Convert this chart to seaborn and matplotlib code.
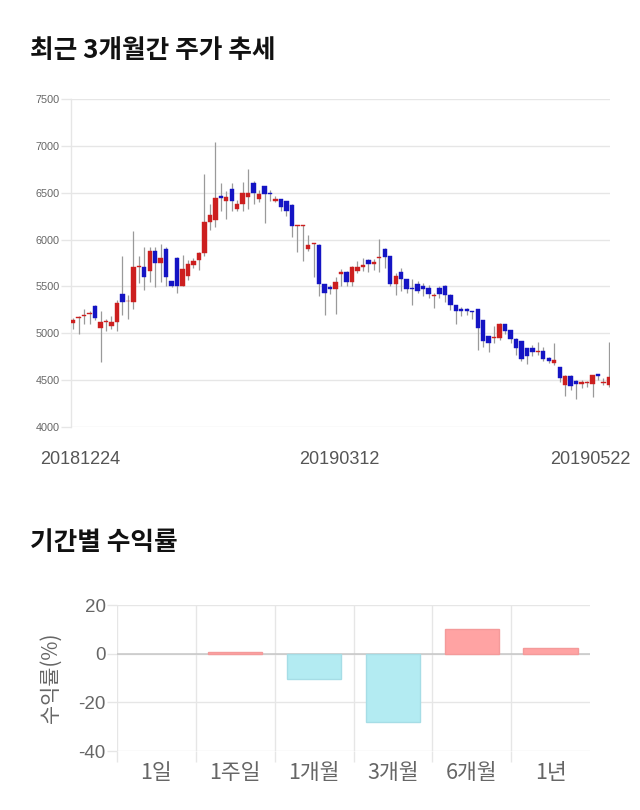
import matplotlib
matplotlib.use("Agg")
import matplotlib.pyplot as plt
import matplotlib.transforms as mtransforms
from matplotlib.ticker import FixedLocator
import seaborn as sns
import pandas as pd
import numpy as np

# ---------------- data: daily candles (20181224 .. 20190522) ----------------
opens = [5111, 5165, 5185, 5205, 5296, 5061, 5120, 5082, 5125, 5418,
         5340, 5332, 5708, 5706, 5667, 5874, 5753, 5896, 5557, 5803,
         5500, 5610, 5731, 5781, 5852, 6184, 6205, 6465, 6412, 6537,
         6323, 6383, 6455, 6608, 6437, 6569, 6485, 6416, 6430, 6408,
         6373, 6150, 6150, 5895, 5952, 5945, 5524, 5496, 5475, 5634,
         5652, 5546, 5663, 5712, 5787, 5741, 5805, 5900, 5823, 5521,
         5652, 5574, 5478, 5521, 5503, 5482, 5400, 5482, 5500, 5404,
         5297, 5261, 5261, 5228, 5254, 5139, 4968, 4947, 4954, 5097,
         5036, 4940, 4918, 4843, 4840, 4797, 4815, 4736, 4682, 4636,
         4447, 4547, 4493, 4457, 4472, 4454, 4565, 4468, 4447]
closes = [5143, 5170, 5190, 5214, 5161, 5125, 5130, 5125, 5325, 5332,
          5345, 5710, 5712, 5603, 5874, 5753, 5803, 5603, 5500, 5500,
          5685, 5735, 5767, 5860, 6187, 6259, 6448, 6444, 6455, 6408,
          6383, 6496, 6496, 6494, 6487, 6483, 6483, 6437, 6348, 6305,
          6141, 6152, 6152, 5945, 5955, 5524, 5425, 5475, 5546, 5652,
          5546, 5712, 5712, 5730, 5741, 5766, 5812, 5812, 5521, 5610,
          5574, 5475, 5475, 5450, 5475, 5421, 5408, 5421, 5404, 5297,
          5236, 5236, 5243, 5225, 5054, 4914, 4893, 4957, 5097, 5029,
          4940, 4840, 4722, 4761, 4804, 4811, 4725, 4707, 4711, 4518,
          4547, 4440, 4454, 4475, 4475, 4550, 4547, 4482, 4529]
highs = [5160, 5189, 5260, 5240, 5300, 5240, 5150, 5180, 5350, 5820,
         5410, 6091, 5830, 5920, 5920, 5920, 5950, 5920, 5560, 5810,
         5840, 5780, 5800, 5870, 6704, 6380, 7043, 6600, 6520, 6600,
         6420, 6610, 6758, 6620, 6530, 6570, 6530, 6470, 6430, 6410,
         6380, 6152, 6152, 6050, 5960, 5950, 5530, 5510, 5600, 5690,
         5660, 5720, 5770, 5800, 5790, 5790, 6007, 5910, 5830, 5640,
         5700, 5580, 5580, 5560, 5540, 5510, 5430, 5500, 5510, 5420,
         5300, 5280, 5270, 5240, 5260, 5140, 4970, 5080, 5110, 5100,
         5040, 4945, 4920, 4845, 4880, 4910, 4850, 4745, 4900, 4640,
         4560, 4550, 4500, 4500, 4490, 4560, 4570, 4520, 4904]
lows = [5050, 4993, 5100, 5100, 5140, 4690, 5020, 5050, 5020, 5200,
        5150, 5260, 5540, 5460, 5550, 5490, 5550, 5500, 5490, 5430,
        5500, 5570, 5700, 5680, 5830, 6100, 6130, 6300, 6220, 6300,
        6300, 6300, 6330, 6380, 6400, 6177, 6410, 6400, 6300, 6250,
        6030, 5867, 5767, 5880, 5600, 5400, 5190, 5420, 5209, 5500,
        5500, 5500, 5640, 5660, 5650, 5680, 5650, 5700, 5500, 5410,
        5450, 5430, 5297, 5430, 5400, 5380, 5269, 5380, 5330, 5250,
        5100, 5180, 5200, 5150, 4822, 4850, 4797, 4900, 4930, 4990,
        4900, 4770, 4700, 4670, 4760, 4770, 4700, 4680, 4660, 4480,
        4330, 4400, 4304, 4420, 4430, 4325, 4500, 4450, 4430]
date_ticks = [0, 49, 98]
date_labels = ["20181224", "20190312", "20190522"]
price_ticks = [4000, 4500, 5000, 5500, 6000, 6500, 7000, 7500]

# ---------------- data: period returns ----------------
periods = ["1일", "1주일", "1개월", "3개월", "6개월", "1년"]
returns = [0.0, 0.8, -10.4, -27.9, 10.1, 2.3]
return_ticks = [-40, -20, 0, 20]

# ---------------- style ----------------
sns.set_theme(style="white")
plt.rcParams['font.family'] = ['Liberation Sans', 'Noto Sans CJK KR', 'DejaVu Sans']
KFONT = ['Noto Sans CJK KR', 'DejaVu Sans']
GRID = '#e6e6e6'
UP = '#cc1f1f'
DOWN = '#1414c4'

W, H = 640, 810
fig = plt.figure(figsize=(W / 100, H / 100), dpi=100)

def box(l, t, r, b):
    return [l / W, 1 - b / H, (r - l) / W, (b - t) / H]

# ---------------- titles ----------------
fig.text(30 / W, 1 - 50 / H, "최근 3개월간 주가 추세", family=KFONT, fontsize=18.5,
         fontweight='bold', color='#111111', va='center', ha='left')
fig.text(30 / W, 1 - 543 / H, "기간별 수익률", family=KFONT, fontsize=18.5,
         fontweight='bold', color='#111111', va='center', ha='left')

# ---------------- candlestick chart ----------------
ax = fig.add_axes(box(71, 99, 610, 427))
df = pd.DataFrame({"open": opens, "close": closes, "high": highs, "low": lows})
df["idx"] = np.arange(len(df))
df["bottom"] = df[["open", "close"]].min(axis=1)
df["height"] = (df["close"] - df["open"]).abs().clip(lower=9)
df["color"] = np.where(df["close"] >= df["open"], UP, DOWN)

ax.vlines(df["idx"], df["low"], df["high"], color='#9a9a9a', lw=0.9, zorder=2)
ax.bar(df["idx"], df["height"], bottom=df["bottom"], width=0.8,
       color=df["color"], edgecolor=df["color"], linewidth=0.3, zorder=3)

ax.set_xlim(-0.4, 98.2)
ax.set_ylim(4000, 7500)
ax.set_yticks(price_ticks)
ax.set_yticklabels([str(v) for v in price_ticks])
ax.yaxis.grid(True, color=GRID, lw=1)
ax.set_axisbelow(True)
for s in ['top', 'right', 'bottom']:
    ax.spines[s].set_visible(False)
ax.spines['left'].set_color(GRID)
ax.spines['left'].set_linewidth(1)
ax.tick_params(axis='y', which='major', left=True, length=7.2, width=1, color=GRID,
               pad=1, labelsize=7.8, labelcolor='#666666')
ax.set_xticks(date_ticks)
ax.set_xticklabels(date_labels)
ax.tick_params(axis='x', length=0, pad=17, labelsize=13, labelcolor='#555555')
offsets = [7, -2, -19]
for lab, dx in zip(ax.get_xticklabels(), offsets):
    lab.set_transform(lab.get_transform() +
                      mtransforms.ScaledTranslation(dx / 100, 0, fig.dpi_scale_trans))

# ---------------- returns bar chart ----------------
ax2 = fig.add_axes(box(117, 605, 590, 751))
bdf = pd.DataFrame({"period": periods, "ret": returns})
pal = ['#ffa3a3' if v >= 0 else '#b3ebf2' for v in returns]
sns.barplot(data=bdf, x="period", y="ret", hue="period", palette=pal, legend=False,
            saturation=1, width=0.69, ax=ax2, zorder=3)
for p, v in zip(ax2.patches, returns):
    if v == 0:
        p.set_linewidth(0)
        continue
    p.set_edgecolor('#f49a9a' if v > 0 else '#a6dde6')
    p.set_linewidth(1.0)

ax2.set_xlim(-0.5, 5.5)
ax2.set_ylim(-40, 20)
ax2.set_yticks(return_ticks)
ax2.set_yticklabels([str(v) for v in return_ticks])
ax2.yaxis.grid(True, color=GRID, lw=1)
ax2.axhline(0, color='#c6c6c6', lw=1.1, zorder=2)
ax2.xaxis.set_minor_locator(FixedLocator(np.arange(-0.5, 5.0, 1.0)))
ax2.xaxis.grid(True, which='minor', color=GRID, lw=1)
ax2.set_axisbelow(True)
for s in ['top', 'right', 'bottom', 'left']:
    ax2.spines[s].set_visible(False)
ax2.tick_params(axis='y', left=True, length=7.2, width=1, color=GRID, pad=1,
                labelsize=13.5, labelcolor='#666666')
ax2.tick_params(axis='x', which='major', length=0, pad=8, labelsize=15.5,
                labelcolor='#666666')
ax2.tick_params(axis='x', which='minor', bottom=True, length=8, width=1, color=GRID)
for lab in ax2.get_xticklabels():
    lab.set_family(KFONT)
ax2.set_xlabel("")
ax2.set_ylabel("수익률(%)", family=KFONT, fontsize=15, color='#666666', labelpad=12)

fig.savefig("out.png", dpi=100)
